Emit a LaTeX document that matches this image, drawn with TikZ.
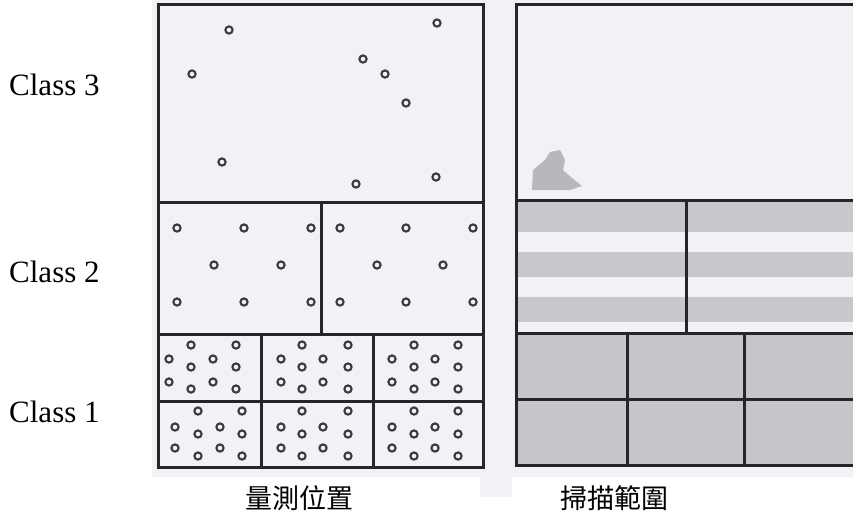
\documentclass[tikz,border=0pt]{standalone}
\usepackage{fontspec}
\setmainfont{Liberation Serif}
\newfontfamily\cjk{Noto Sans CJK TC}
\definecolor{scan}{HTML}{F2F1F6}
\definecolor{band}{HTML}{C9C7CB}
\definecolor{grayfill}{HTML}{C6C5CC}
\definecolor{ink}{HTML}{262626}
\definecolor{ringc}{HTML}{3A3A3A}
\definecolor{blob}{HTML}{B9B7BE}
\tikzset{
  grid/.style={draw=ink, line width=3pt, line cap=rect},
  ring/.style={draw=ringc, line width=2.1pt},
  classlbl/.style={anchor=base west, inner sep=0pt, font=\fontsize{31}{31}\selectfont},
  cjklbl/.style={inner sep=0pt, font=\cjk\fontsize{27}{27}\selectfont},
}
\begin{document}
\begin{tikzpicture}[x=1pt,y=-1pt]
\useasboundingbox (0,0) rectangle (853,531);
\clip (0,0) rectangle (853,531);
% scanned background
\fill[scan] (152,0) rectangle (853,477);
\fill[scan] (480,470) rectangle (512,497);
% right panel fills
\foreach \a/\b in {202/232, 252/277, 297/322}
  \fill[band] (516,\a) rectangle (870,\b);
\fill[grayfill] (516,333) rectangle (870,465);
\fill[blob] (532,190) -- (533,170) -- (545,160) -- (550,152) -- (560,150) -- (565,160) -- (563,170) -- (572,178) -- (582,186) -- (570,190) -- cycle;
% left panel grid
\draw[grid] (158,4) rectangle (483,467);
\draw[grid] (158,202) -- (483,202);
\draw[grid] (158,334) -- (483,334);
\draw[grid] (158,401) -- (483,401);
\draw[grid] (321,202) -- (321,334);
\draw[grid] (261,334) -- (261,467);
\draw[grid] (373,334) -- (373,467);
% right panel grid
\draw[grid] (870,4) -- (516,4) -- (516,465) -- (870,465);
\draw[grid] (516,200) -- (870,200);
\draw[grid] (516,333) -- (870,333);
\draw[grid] (516,399) -- (870,399);
\draw[grid] (686,200) -- (686,333);
\draw[grid] (627,333) -- (627,465);
\draw[grid] (744,333) -- (744,465);
% class 3 points
\foreach \x/\y in {229/30, 437/23, 192/74, 363/59, 385/74, 406/103, 222/162, 356/184, 436/177}
  \draw[ring] (\x,\y) circle (3.6);
% class 2 points
\foreach \x in {177,244,311,340,406,473}
  \foreach \y in {228,302}
    \draw[ring] (\x,\y) circle (3.6);
\foreach \x in {214,281,377,443}
  \draw[ring] (\x,265) circle (3.6);
% class 1 points
\foreach \bx/\dx/\ax/\cx in {191/236/169/213, 302/348/281/323, 414/458/392/435}{
  \foreach \y in {345,367,389} { \draw[ring] (\bx,\y) circle (3.6); \draw[ring] (\dx,\y) circle (3.6); }
  \foreach \y in {359,382} { \draw[ring] (\ax,\y) circle (3.6); \draw[ring] (\cx,\y) circle (3.6); }
}
\foreach \bx/\dx/\ax/\cx in {198/242/175/220, 302/348/281/323, 414/458/392/435}{
  \foreach \y in {411,434,456} { \draw[ring] (\bx,\y) circle (3.6); \draw[ring] (\dx,\y) circle (3.6); }
  \foreach \y in {427,448} { \draw[ring] (\ax,\y) circle (3.6); \draw[ring] (\cx,\y) circle (3.6); }
}
% labels
\node[classlbl] (c3) at (9,95) {Class 3};
\node[classlbl] (c2) at (9,282) {Class 2};
\node[classlbl] (c1) at (9,422) {Class 1};
\node[cjklbl] (left) at (299,498) {量測位置};
\node[cjklbl] (right) at (614,498) {掃描範圍};
\end{tikzpicture}
\end{document}
